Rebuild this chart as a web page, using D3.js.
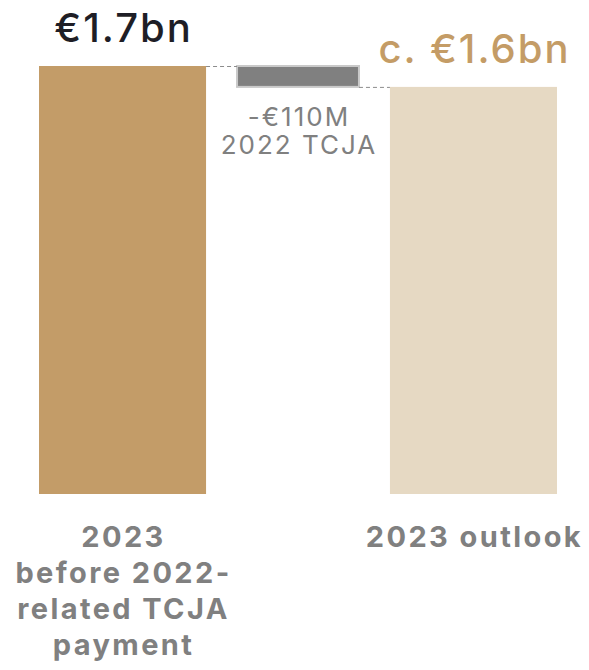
<!DOCTYPE html>
<html>
<head>
<meta charset="utf-8">
<script src="https://cdn.jsdelivr.net/npm/d3@7"></script>
<style>
  html, body { margin: 0; padding: 0; background: #fff; }
  svg { display: block; font-family: Inter, "Noto Sans", sans-serif; }
</style>
</head>
<body>
<div id="chart"></div>
<script>
// waterfall steps
const steps = ["before", "tcja", "outlook"];
const values = [1.70, -0.083, 1.617];
const barTypes = ["total", "delta", "total"];
const valueLabels = [["€1.7bn"], ["-€110M", "2022 TCJA"], ["c. €1.6bn"]];
const categoryLabels = [["2023", "before 2022-", "related TCJA", "payment"], [], ["2023 outlook"]];
const barColors = ["#c39c68", "#808080", "#e6d9c3"];

const width = 589;
const height = 670;
const margin = { top: 66, right: 32, bottom: 176, left: 39 };

const svg = d3.select("#chart")
  .append("svg")
  .attr("width", width)
  .attr("height", height);

const xScale = d3.scaleBand()
  .domain(steps)
  .range([margin.left, width - margin.right])
  .paddingInner(0.048)
  .paddingOuter(0);

const yScale = d3.scaleLinear()
  .domain([0, 1.7])
  .range([height - margin.bottom, margin.top]);

// running totals for the waterfall
let running = 0;
const bars = steps.map((s, i) => {
  let y0, y1;
  if (barTypes[i] === "total") {
    y0 = 0; y1 = values[i]; running = values[i];
  } else {
    y0 = running + values[i]; y1 = running; running = running + values[i];
  }
  return { key: s, i: i, y0: y0, y1: y1, type: barTypes[i] };
});

const deltaInset = 0.135; // the delta bar is narrower than the totals

svg.selectAll("rect.bar")
  .data(bars)
  .enter()
  .append("rect")
  .attr("class", "bar")
  .attr("x", d => xScale(d.key) + (d.type === "delta" ? xScale.bandwidth() * deltaInset : 0))
  .attr("y", d => yScale(d.y1))
  .attr("width", d => xScale.bandwidth() * (d.type === "delta" ? 1 - 2 * deltaInset : 1))
  .attr("height", d => yScale(d.y0) - yScale(d.y1))
  .attr("fill", d => barColors[d.i])
  .attr("stroke", d => d.type === "delta" ? "#c9c9c9" : "none")
  .attr("stroke-width", 2);

// dashed connectors between bars
const connectors = bars.slice(0, -1).map((d, i) => {
  const next = bars[i + 1];
  const level = d.type === "total" ? d.y1 : d.y0;
  const x1 = xScale(d.key) + xScale.bandwidth() * (d.type === "delta" ? 1 - deltaInset : 1);
  const x2 = xScale(next.key) + (next.type === "delta" ? xScale.bandwidth() * deltaInset : 0);
  return { x1: x1, x2: x2, v: level };
});

svg.selectAll("line.conn")
  .data(connectors)
  .enter()
  .append("line")
  .attr("class", "conn")
  .attr("x1", d => d.x1)
  .attr("x2", d => d.x2)
  .attr("y1", d => yScale(d.v) + 0.5)
  .attr("y2", d => yScale(d.v) + 0.5)
  .attr("stroke", "#8c8c8c")
  .attr("stroke-width", 1)
  .attr("stroke-dasharray", "4,3");

// value labels
const cx = d => xScale(d.key) + xScale.bandwidth() / 2;

bars.forEach(d => {
  const lines = valueLabels[d.i];
  if (d.type === "total") {
    svg.append("text")
      .attr("x", cx(d) + 1)
      .attr("y", yScale(d.y1) - 24)
      .attr("text-anchor", "middle")
      .attr("font-size", 40)
      .attr("font-weight", 500)
      .attr("letter-spacing", 2)
      .attr("fill", d.i === 0 ? "#1e1e26" : "#c49c66")
      .text(lines[0]);
  } else {
    const t = svg.append("text")
      .attr("text-anchor", "middle")
      .attr("font-size", 26)
      .attr("letter-spacing", 2)
      .attr("fill", "#808080");
    lines.forEach((l, j) => {
      t.append("tspan")
        .attr("x", cx(d) + 1)
        .attr("y", yScale(d.y0) + 39 + j * 28)
        .text(l);
    });
  }
});

// category labels under the bars
bars.forEach(d => {
  const lines = categoryLabels[d.i];
  if (!lines.length) return;
  const t = svg.append("text")
    .attr("text-anchor", "middle")
    .attr("font-size", 29)
    .attr("font-weight", 700)
    .attr("letter-spacing", 2.4)
    .attr("fill", "#808080");
  lines.forEach((l, j) => {
    t.append("tspan")
      .attr("x", cx(d) + 1)
      .attr("y", yScale(0) + 53 + j * 36)
      .text(l);
  });
});
</script>
</body>
</html>
